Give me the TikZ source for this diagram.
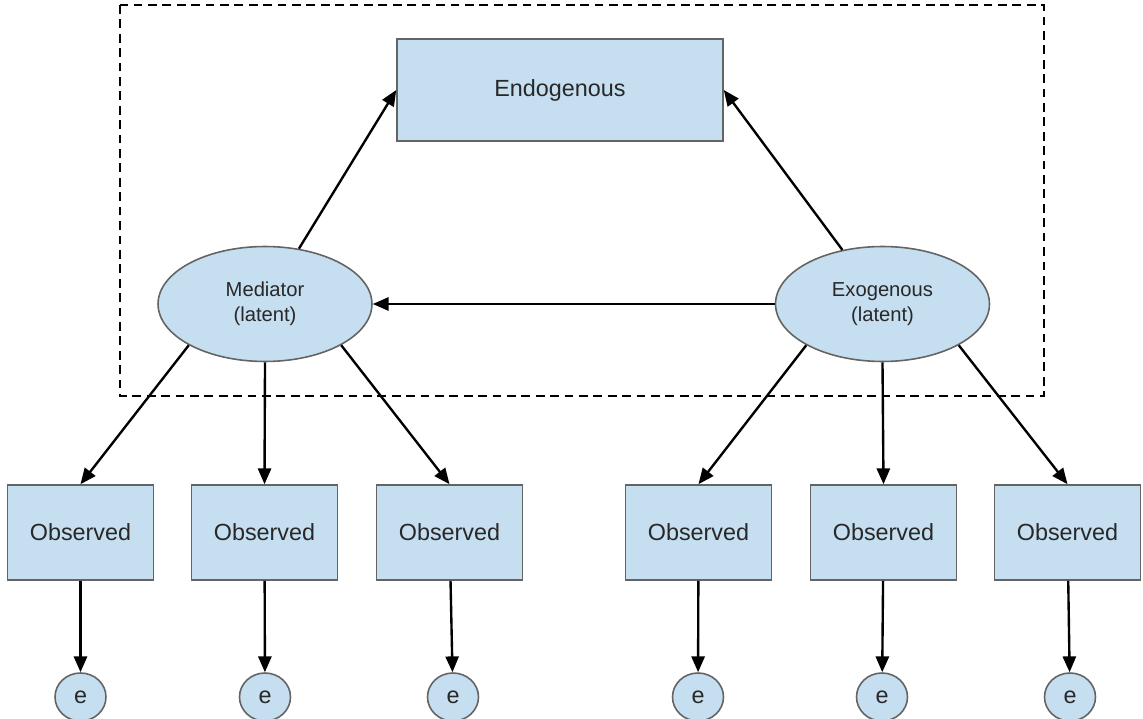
\documentclass[tikz,border=0pt]{standalone}
\usepackage{fontspec}
\setmainfont{Liberation Sans}
\usepackage{tikz}
\usetikzlibrary{arrows.meta,shapes.geometric}
\definecolor{bleuclair}{RGB}{197,222,240}
\definecolor{grisbord}{RGB}{100,100,100}
\definecolor{gristexte}{RGB}{40,40,40}

\begin{document}
\begin{tikzpicture}[x=0.02cm, y=-0.02cm,
  boite/.style={draw=grisbord, fill=bleuclair, line width=0.9pt, text=gristexte,
    inner sep=0pt, font=\fontsize{13.3}{16}\selectfont},
  latente/.style={ellipse, draw=grisbord, fill=bleuclair, line width=0.9pt, text=gristexte,
    align=center, inner sep=0pt, minimum width=4.28cm, minimum height=2.3cm,
    font=\fontsize{11.5}{14}\selectfont},
  erreur/.style={ellipse, draw=grisbord, fill=bleuclair, line width=0.9pt, text=gristexte,
    inner sep=0pt, minimum width=1.02cm, minimum height=0.96cm,
    font=\fontsize{13.3}{16}\selectfont},
  fleche/.style={-{Triangle[length=9pt,width=7.5pt]}, line width=1.35pt, black}]
\useasboundingbox (0,0) rectangle (1143,719);

% Cadre pointillé du modèle structurel
\draw[black, line width=1.5pt, dash pattern=on 5pt off 3.2pt] (120,5) rectangle (1044,396);

% Variable endogène en haut
\node[boite, minimum width=6.52cm, minimum height=2.04cm] (endo) at (560,90) {Endogenous};

% Les deux variables latentes
\node[latente] (med) at (265,304) {Mediator\\(latent)};
\node[latente] (exo) at (882.5,304) {Exogenous\\(latent)};

% Indicateurs observés
\node[boite, minimum width=2.92cm, minimum height=1.9cm] (obs1) at (80.5,532.5) {Observed};
\node[boite, minimum width=2.92cm, minimum height=1.9cm] (obs2) at (264.5,532.5) {Observed};
\node[boite, minimum width=2.92cm, minimum height=1.9cm] (obs3) at (449.5,532.5) {Observed};
\node[boite, minimum width=2.92cm, minimum height=1.9cm] (obs4) at (698.5,532.5) {Observed};
\node[boite, minimum width=2.92cm, minimum height=1.9cm] (obs5) at (883.5,532.5) {Observed};
\node[boite, minimum width=2.92cm, minimum height=1.9cm] (obs6) at (1067.5,532.5) {Observed};

% Termes d'erreur
\node[erreur] (e1) at (80.5,697) {e};
\node[erreur] (e2) at (265,697) {e};
\node[erreur] (e3) at (453,697) {e};
\node[erreur] (e4) at (698,697) {e};
\node[erreur] (e5) at (882,697) {e};
\node[erreur] (e6) at (1070,697) {e};

% Chemins structurels
\draw[fleche] (med) -- (endo.west);
\draw[fleche] (exo) -- (endo.east);
\draw[fleche] (exo) -- (med);

% Saturations vers les indicateurs
\draw[fleche] (med.south west) -- (obs1.north);
\draw[fleche] (med.south) -- (obs2.north);
\draw[fleche] (med.south east) -- (obs3.north);
\draw[fleche] (exo.south west) -- (obs4.north);
\draw[fleche] (exo.south) -- (obs5.north);
\draw[fleche] (exo.south east) -- (obs6.north);

% Erreurs de mesure
\draw[fleche] (obs1) -- (e1);
\draw[fleche] (obs2) -- (e2);
\draw[fleche] (obs3) -- (e3);
\draw[fleche] (obs4) -- (e4);
\draw[fleche] (obs5) -- (e5);
\draw[fleche] (obs6) -- (e6);
\end{tikzpicture}
\end{document}
